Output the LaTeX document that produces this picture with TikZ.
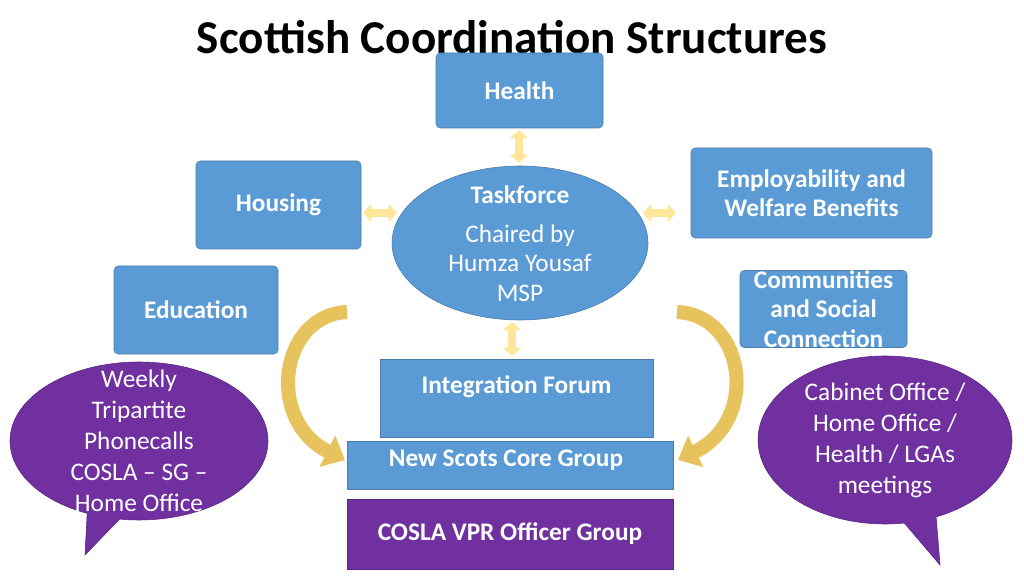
\documentclass[tikz,border=0pt]{standalone}
\usepackage{fontspec}
\setmainfont{Carlito}
\usetikzlibrary{arrows.meta,shapes.geometric,shapes.callouts}
\definecolor{boxblue}{HTML}{5B9BD5}
\definecolor{boxpurple}{HTML}{7030A0}
\definecolor{linkyellow}{HTML}{FFE699}
\definecolor{curvegold}{HTML}{E6C35C}
\tikzset{
  topic/.style={draw=boxblue!80!black, fill=boxblue, rounded corners=3pt, text=white, font=\fontsize{18}{21}\selectfont\bfseries, align=center, inner sep=0pt},
  link/.style={linkyellow, line width=5pt, {Triangle[width=13pt,length=6pt]}-{Triangle[width=13pt,length=6pt]}},
  swoop/.style={curvegold, line width=10pt, -{Triangle[width=24pt,length=14pt]}},
  bubble/.style={ellipse callout, fill=boxpurple, draw=boxpurple!80!black, inner sep=0pt},
  bubbletext/.style={text=white, font=\fontsize{18}{22}\selectfont, align=center}
}
\begin{document}
\begin{tikzpicture}[x=0.025cm,y=-0.025cm]
        \useasboundingbox (0,0) rectangle (1024,576);

        \node[font=\fontsize{33.5}{38}\selectfont\bfseries] (title) at (512,37) {Scottish Coordination Structures};

        % Themen
        \node[topic, minimum width=167*0.025cm, minimum height=75*0.025cm] (health) at (519.5,90.5) {Health};
        \node[topic, minimum width=165*0.025cm, minimum height=88*0.025cm] (housing) at (278.5,205) {Housing};
        \node[topic, minimum width=164*0.025cm, minimum height=88*0.025cm] (education) at (196,310) {Education};
        \node[topic, minimum width=241*0.025cm, minimum height=90*0.025cm] (employ) at (811.5,193) {Employability and\\Welfare Benefits};
        \node[topic, minimum width=167*0.025cm, minimum height=76*0.025cm] (communities) at (823.5,309) {Communities\\and Social\\Connection};

        % Taskforce
        \node[ellipse, draw=boxblue!80!black, fill=boxblue, minimum width=256*0.025cm, minimum height=154*0.025cm] (task) at (520,243) {};
        \node[text=white, font=\fontsize{18}{21}\selectfont\bfseries] (tasktitle) at (520,195) {Taskforce};
        \node[text=white, font=\fontsize{18}{21}\selectfont, align=center] (chair) at (520,263) {Chaired by\\Humza Yousaf\\MSP};

        % Gruppen
        \node[topic, rounded corners=0pt, minimum width=273*0.025cm, minimum height=78*0.025cm] (forum) at (516.5,398) {};
        \node[text=white, font=\fontsize{18}{21}\selectfont\bfseries] at (516.5,387) {Integration Forum};
        \node[topic, rounded corners=0pt, minimum width=326*0.025cm, minimum height=48*0.025cm] (core) at (510,465) {};
        \node[text=white, font=\fontsize{18}{21}\selectfont\bfseries] at (506,460) {New Scots Core Group};
        \node[topic, rounded corners=0pt, fill=boxpurple, draw=boxpurple!80!black, minimum width=326*0.025cm, minimum height=70*0.025cm] (cosla) at (510,534) {COSLA VPR Officer Group};

        % Verbindungen
        \draw[link] (519,130) -- (519,163);
        \draw[link] (363,213) -- (397,213);
        \draw[link] (643,213) -- (676,213);
        \draw[link] (512,322) -- (512,356);
        \draw[swoop] (347,312) .. controls (280,315) and (265,420) .. (345,460);
        \draw[swoop] (677,312) .. controls (745,315) and (760,420) .. (678,460);

        % Sprechblasen
        \node[bubble, minimum width=258*0.025cm, minimum height=158*0.025cm,
              callout absolute pointer={(85,555)}] (weekly) at (139,441) {};
        \node[bubbletext] at (weekly.center) {Weekly\\Tripartite\\Phonecalls\\COSLA -- SG --\\Home Office};
        \node[bubble, minimum width=254*0.025cm, minimum height=168*0.025cm,
              callout absolute pointer={(940,565)}] (meetings) at (885,440) {};
        \node[bubbletext] at (meetings.center) {Cabinet Office /\\Home Office /\\Health / LGAs\\meetings};
    \end{tikzpicture}
\end{document}
